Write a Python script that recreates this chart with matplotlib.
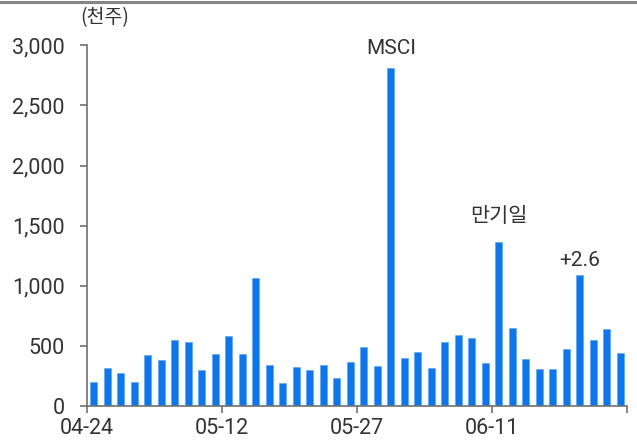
import matplotlib
matplotlib.use("Agg")
import matplotlib.pyplot as plt
from matplotlib.ticker import FuncFormatter

plt.rcParams['font.family'] = ['Roboto', 'Noto Sans CJK KR', 'DejaVu Sans']

# Daily volume (thousand shares)
volume = [197, 316, 274, 200, 421, 383, 546, 535, 297, 432,
          582, 430, 1062, 344, 191, 324, 299, 341, 236, 370,
          488, 333, 2809, 397, 452, 319, 530, 588, 566, 355,
          1367, 651, 391, 305, 310, 471, 1087, 546, 638, 441]
tick_labels = ['04-24', '05-12', '05-27', '06-11', '']
notes = {22: ('MSCI', 20), 30: ('만기일', 25), 36: ('+2.6', 15)}

BLUE = '#0B76F2'
AXIS = '#707070'
TEXT = '#333333'

fig = plt.figure(figsize=(6.37, 4.46), dpi=100)
ax = fig.add_axes([0.1366, 0.0897, 0.848, 0.8087])

x = list(range(len(volume)))
ax.bar(x, volume, width=0.52, color=BLUE, edgecolor='#5AA2F7', linewidth=0.4)

ax.set_xlim(-0.5, len(volume) - 0.5)
ax.set_ylim(0, 3000)
ax.set_yticks(range(0, 3001, 500))
ax.yaxis.set_major_formatter(FuncFormatter(lambda v, p: f'{int(v):,}'))
ax.set_xticks([i - 0.5 for i in range(0, len(volume) + 1, 10)])
ax.set_xticklabels(tick_labels)

for s in ['top', 'right']:
    ax.spines[s].set_visible(False)
for s in ['left', 'bottom']:
    ax.spines[s].set_color(AXIS)
    ax.spines[s].set_linewidth(1.2)

ax.tick_params(axis='y', length=5, width=1.2, color=AXIS, pad=11,
               labelsize=15.5, labelcolor=TEXT)
ax.tick_params(axis='x', length=5, width=1.2, color=AXIS, pad=4,
               labelsize=15.5, labelcolor=TEXT)

for i, (label, off) in notes.items():
    ax.annotate(label, (x[i], volume[i]), xytext=(0, off),
                textcoords='offset pixels', ha='center', va='center',
                fontsize=15, color=TEXT,
                family=['Roboto', 'Noto Sans CJK KR', 'DejaVu Sans'])

fig.text(105 / 637, 1 - 18 / 446, '(천주)', ha='center', va='center',
         fontsize=14, color=TEXT, family=['Noto Sans CJK KR', 'DejaVu Sans'])

# Thin rule across the top edge
fig.add_artist(plt.Line2D([0, 1], [0.996, 0.996], color='#858585',
                          linewidth=2.2, transform=fig.transFigure))

fig.savefig('out.png', dpi=100)
